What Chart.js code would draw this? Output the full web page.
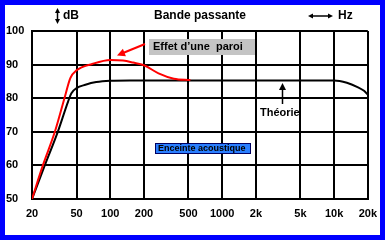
<!DOCTYPE html>
<html>
<head>
<meta charset="utf-8">
<script src="https://cdn.jsdelivr.net/npm/chart.js@4"></script>
<style>
  html, body { margin: 0; padding: 0; background: #0000ff; }
  canvas { display: block; }
</style>
</head>
<body>
<canvas id="c" width="385" height="240"></canvas>
<script>
// frequency ticks (Hz) and their labels
const xTicks = [20, 50, 100, 200, 500, 1000, 2000, 5000, 10000, 20000];
const xTickLabels = ['20', '50', '100', '200', '500', '1000', '2k', '5k', '10k', '20k'];
const yTicks = [50, 60, 70, 80, 90, 100];

// "Effet d'une paroi" (red)
const paroiHz = [20, 25, 32, 39, 44, 50, 69, 100, 130, 160, 200, 270, 370, 520];
const paroiDb = [50, 60, 70, 80, 86, 88.3, 90.2, 91.4, 91.2, 90.6, 89.8, 87.4, 85.8, 85.4];

// "Théorie" (black)
const theorieHz = [20, 26, 34, 42, 45, 50, 60, 75, 100, 150, 10000, 13000, 16000, 18500, 20000];
const theorieDb = [50, 60, 70, 79, 81.5, 83, 84, 84.8, 85.2, 85.3, 85.3, 84.6, 83.4, 82.2, 81];

const toPoints = (xs, ys) => xs.map((x, i) => ({ x: x, y: ys[i] }));

function arrowHead(ctx, x, y, angle, size) {
  ctx.save();
  ctx.translate(x, y);
  ctx.rotate(angle);
  ctx.beginPath();
  ctx.moveTo(0, 0);
  ctx.lineTo(-size, -size * 0.5);
  ctx.lineTo(-size, size * 0.5);
  ctx.closePath();
  ctx.fill();
  ctx.restore();
}

const decor = {
  id: 'decor',
  beforeDraw(chart) {
    const ctx = chart.ctx;
    ctx.save();
    ctx.fillStyle = '#0000ff';
    ctx.fillRect(0, 0, 385, 240);
    ctx.fillStyle = '#ffffff';
    ctx.fillRect(5, 5, 375, 230);
    ctx.restore();
  },
  afterDraw(chart) {
    const ctx = chart.ctx;
    ctx.save();
    ctx.fillStyle = '#000';
    ctx.strokeStyle = '#000';
    ctx.textBaseline = 'middle';

    // header
    ctx.font = 'bold 12px "Liberation Sans", Arial, sans-serif';
    ctx.textAlign = 'center';
    ctx.fillText('Bande passante', 200, 16);
    ctx.textAlign = 'left';
    ctx.fillText('dB', 63, 16);
    ctx.fillText('Hz', 338, 16);

    ctx.lineWidth = 1.5;
    ctx.beginPath();
    ctx.moveTo(57.5, 11); ctx.lineTo(57.5, 21);
    ctx.stroke();
    arrowHead(ctx, 57.5, 8, -Math.PI / 2, 5);
    arrowHead(ctx, 57.5, 24, Math.PI / 2, 5);

    ctx.beginPath();
    ctx.moveTo(311, 16); ctx.lineTo(330, 16);
    ctx.stroke();
    arrowHead(ctx, 308, 16, Math.PI, 5);
    arrowHead(ctx, 333, 16, 0, 5);

    // Effet d'une paroi label
    ctx.fillStyle = '#c4c4c4';
    ctx.fillRect(149, 39, 106, 16);
    ctx.fillStyle = '#000';
    ctx.font = 'bold 11px "Liberation Sans", Arial, sans-serif';
    ctx.fillText('Effet d\u2019une  paroi', 153, 47);

    ctx.strokeStyle = '#ff0000';
    ctx.fillStyle = '#ff0000';
    ctx.lineWidth = 2;
    ctx.beginPath();
    ctx.moveTo(145, 44); ctx.lineTo(123, 53);
    ctx.stroke();
    arrowHead(ctx, 117, 55.5, Math.atan2(11.5, -28), 8);

    // Théorie label
    ctx.fillStyle = '#000';
    ctx.strokeStyle = '#000';
    ctx.fillText('Th\u00e9orie', 260, 113);
    ctx.lineWidth = 1.5;
    ctx.beginPath();
    ctx.moveTo(282.5, 104); ctx.lineTo(282.5, 88);
    ctx.stroke();
    arrowHead(ctx, 282.5, 83, -Math.PI / 2, 7);

    // Enceinte acoustique box
    ctx.fillStyle = '#2a7fff';
    ctx.fillRect(155, 143, 96, 11);
    ctx.strokeStyle = '#000060';
    ctx.lineWidth = 1;
    ctx.strokeRect(155.5, 143.5, 95, 10);
    ctx.fillStyle = '#000';
    ctx.font = 'bold 9px "Liberation Sans", Arial, sans-serif';
    ctx.fillText('Enceinte acoustique', 158, 149);

    ctx.restore();
  }
};

const tickFont = { family: '"Liberation Sans", Arial, sans-serif', size: 11, weight: 'bold' };

new Chart(document.getElementById('c'), {
  type: 'line',
  data: {
    datasets: [
      {
        label: 'Effet d\u2019une paroi',
        data: toPoints(paroiHz, paroiDb),
        borderColor: '#ff0000',
        borderWidth: 2,
        pointRadius: 0,
        cubicInterpolationMode: 'monotone'
      },
      {
        label: 'Th\u00e9orie',
        data: toPoints(theorieHz, theorieDb),
        borderColor: '#000000',
        borderWidth: 2,
        pointRadius: 0,
        cubicInterpolationMode: 'monotone'
      }
    ]
  },
  options: {
    responsive: false,
    devicePixelRatio: 1,
    animation: false,
    layout: { padding: { left: 6, right: 14, top: 31, bottom: 0 } },
    plugins: {
      legend: { display: false },
      tooltip: { enabled: false }
    },
    scales: {
      x: {
        type: 'logarithmic',
        min: 20,
        max: 20000,
        afterBuildTicks: (scale) => { scale.ticks = xTicks.map(v => ({ value: v })); },
        afterFit: (scale) => { scale.height = 41; },
        grid: { color: '#000', lineWidth: 2, drawTicks: false },
        border: { color: '#000', width: 2 },
        ticks: {
          autoSkip: false,
          maxRotation: 0,
          padding: 8,
          color: '#000',
          font: tickFont,
          callback: (v) => {
            const i = xTicks.indexOf(v);
            return i >= 0 ? xTickLabels[i] : '';
          }
        }
      },
      y: {
        min: 50,
        max: 100,
        afterBuildTicks: (scale) => { scale.ticks = yTicks.map(v => ({ value: v })); },
        afterFit: (scale) => { scale.width = 26; },
        grid: { color: '#000', lineWidth: 2, drawTicks: false },
        border: { color: '#000', width: 2 },
        ticks: {
          crossAlign: 'far',
          color: '#000',
          font: tickFont
        }
      }
    }
  },
  plugins: [decor]
});
</script>
</body>
</html>
